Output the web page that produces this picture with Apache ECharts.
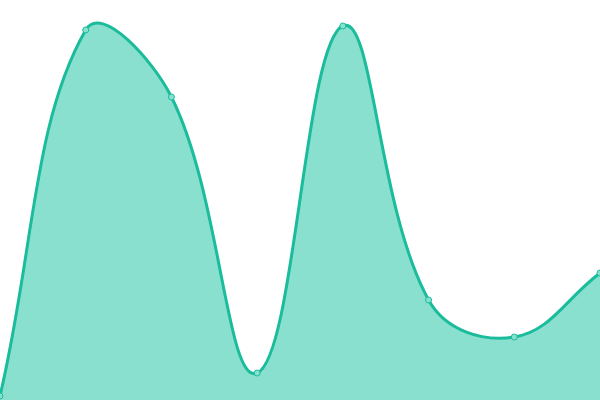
<!DOCTYPE html>
<html>
<head>
<meta charset="utf-8">
<script src="https://cdn.jsdelivr.net/npm/echarts@6/dist/echarts.min.js"></script>
<style>html,body{margin:0;padding:0;background:#fff;}#c{width:600px;height:400px;}</style>
</head>
<body>
<div id="c"></div>
<script>
var categories = ['A', 'B', 'C', 'D', 'E', 'F', 'G', 'H'];
var values = [4, 370, 303, 27, 374, 100, 63, 127];

var LINE_COLOR = '#1abc9c';
var FILL_COLOR = '#8ae0cf';
var TENSION = 0.4;

function controlPoints(pts, t, rect) {
  var n = pts.length, out = [];
  for (var i = 0; i < n; i++) {
    var p = pts[i];
    var prev = pts[Math.max(i - 1, 0)];
    var next = pts[Math.min(i + 1, n - 1)];
    var d01 = Math.hypot(p[0] - prev[0], p[1] - prev[1]);
    var d12 = Math.hypot(next[0] - p[0], next[1] - p[1]);
    var s01 = d01 / (d01 + d12), s12 = d12 / (d01 + d12);
    if (isNaN(s01)) s01 = 0;
    if (isNaN(s12)) s12 = 0;
    var fa = t * s01, fb = t * s12;
    var vx = next[0] - prev[0], vy = next[1] - prev[1];
    var c = {
      px: p[0] - fa * vx, py: p[1] - fa * vy,
      nx: p[0] + fb * vx, ny: p[1] + fb * vy
    };
    function cx(v) { return Math.max(rect.x, Math.min(rect.x + rect.width, v)); }
    function cy(v) { return Math.max(rect.y, Math.min(rect.y + rect.height, v)); }
    c.px = cx(c.px); c.nx = cx(c.nx); c.py = cy(c.py); c.ny = cy(c.ny);
    out.push(c);
  }
  return out;
}

var chart = echarts.init(document.getElementById('c'));
chart.setOption({
  animation: false,
  grid: {left: 0, right: 0, top: 0, bottom: 0},
  xAxis: {type: 'category', data: categories, boundaryGap: false, show: false},
  yAxis: {type: 'value', min: 0, max: 400, show: false},
  series: [{
    type: 'custom',
    data: values.map(function (v, k) { return [k, v]; }),
    encode: {x: 0, y: 1},
    renderItem: function (params, api) {
      var i = params.dataIndex;
      var pts = values.map(function (v, k) { return api.coord([k, v]); });
      var children = [];
      if (i === 0) {
        var cps = controlPoints(pts, TENSION, params.coordSys);
        var d = 'M' + pts[0][0] + ',' + pts[0][1];
        for (var k = 0; k < pts.length - 1; k++) {
          d += ' C' + cps[k].nx + ',' + cps[k].ny + ' ' + cps[k + 1].px + ',' + cps[k + 1].py + ' ' + pts[k + 1][0] + ',' + pts[k + 1][1];
        }
        var base = api.coord([0, 0])[1];
        var area = d + ' L' + pts[pts.length - 1][0] + ',' + base + ' L' + pts[0][0] + ',' + base + ' Z';
        children.push({type: 'path', shape: {pathData: area}, style: {fill: FILL_COLOR, stroke: null}});
        children.push({type: 'path', shape: {pathData: d}, style: {fill: 'none', stroke: LINE_COLOR, lineWidth: 3}});
      }
      children.push({type: 'circle', shape: {cx: pts[i][0], cy: pts[i][1], r: 3},
        style: {fill: FILL_COLOR, stroke: LINE_COLOR, lineWidth: 1}});
      return {type: 'group', children: children};
    }
  }]
});
</script>
</body>
</html>
